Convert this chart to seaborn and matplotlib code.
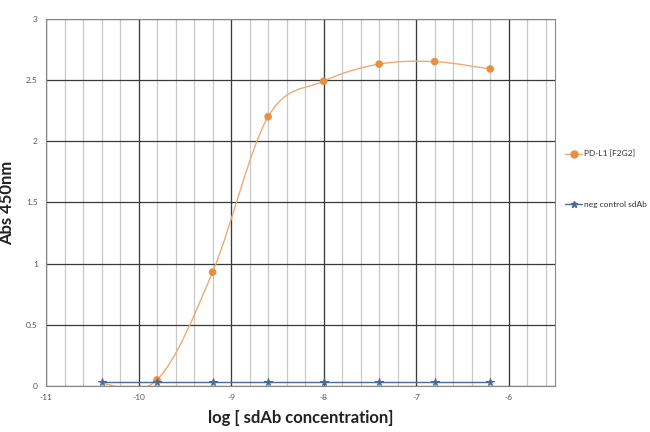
import numpy as np
import pandas as pd
import matplotlib
matplotlib.use("Agg")
import matplotlib.pyplot as plt
from matplotlib.path import Path
from matplotlib.patches import PathPatch
from matplotlib.lines import Line2D
import seaborn as sns

# data
log_conc = [-10.4, -9.8, -9.2, -8.6, -8.0, -7.4, -6.8, -6.2]
pdl1_abs = [0.02, 0.05, 0.93, 2.20, 2.49, 2.63, 2.65, 2.59]
neg_abs = [0.03, 0.03, 0.03, 0.03, 0.03, 0.03, 0.03, 0.03]
x_ticks = [-11, -10, -9, -8, -7, -6]
y_ticks = [0, 0.5, 1, 1.5, 2, 2.5, 3]
y_labels = ["0", "0.5", "1", "1.5", "2", "2.5", "3"]

orange = "#E8903F"
orange_line = "#EDAB72"
blue = "#4A6A9A"

sns.set_style("white")
plt.rcParams['font.family'] = ['Lato', 'DejaVu Sans']

df = pd.DataFrame({"x": log_conc, "pdl1": pdl1_abs, "neg": neg_abs})

fig = plt.figure(figsize=(6.5, 4.32), dpi=100)
ax = fig.add_axes([0.0708, 0.1065, 0.783, 0.850])

# grid: minor verticals light, majors dark
for v in np.arange(-11, -5.45, 0.2):
    ax.axvline(v, color="#c8c8c8", lw=0.9, zorder=0)
for v in x_ticks:
    ax.axvline(v, color="#3a3a3a", lw=0.9, zorder=0.5)
for h in y_ticks:
    ax.axhline(h, color="#3a3a3a", lw=0.9, zorder=0.5)

# smoothed line (excel-like bezier through points)
pts = np.column_stack([df["x"], df["pdl1"]])
ext = np.vstack([pts[0], pts, pts[-1]])
verts = [tuple(pts[0])]
codes = [Path.MOVETO]
for i in range(len(pts) - 1):
    p0, p1, p2, p3 = ext[i], ext[i + 1], ext[i + 2], ext[i + 3]
    c1 = p1 + (p2 - p0) / 6
    c2 = p2 - (p3 - p1) / 6
    verts += [tuple(c1), tuple(c2), tuple(p2)]
    codes += [Path.CURVE4] * 3
ax.add_patch(PathPatch(Path(verts, codes), facecolor="none", edgecolor=orange_line, lw=1.0, zorder=2))

sns.scatterplot(data=df.iloc[1:], x="x", y="pdl1", color=orange, s=30, edgecolor="none", zorder=3, ax=ax)
sns.lineplot(data=df, x="x", y="neg", color=blue, lw=1.0, marker="*", markersize=5.5,
             markeredgecolor=blue, zorder=4, ax=ax)

ax.set_xlim(-11, -5.5)
ax.set_ylim(0, 3)
ax.set_xticks(x_ticks)
ax.set_xticklabels([str(t) for t in x_ticks])
ax.set_yticks(y_ticks)
ax.set_yticklabels(y_labels)
ax.tick_params(axis="both", labelsize=6, colors="#555555", length=0, pad=6)
for s in ax.spines.values():
    s.set_color("#888888")
    s.set_linewidth(0.8)

ax.set_xlabel("log [ sdAb concentration]", fontsize=12, fontweight="bold", color="#222222", labelpad=6)
ax.set_ylabel("Abs 450nm", fontsize=12, fontweight="bold", color="#222222", labelpad=8)

handles = [
    Line2D([0], [0], color=orange_line, lw=1.0, marker="o", markersize=5,
           markerfacecolor=orange, markeredgecolor=orange),
    Line2D([0], [0], color=blue, lw=1.0, marker="*", markersize=5, markeredgecolor=blue),
]
fig.legend(handles, ["PD-L1 [F2G2]", "neg control sdAb"], loc="upper left",
           bbox_to_anchor=(0.858, 0.67), frameon=False, fontsize=6,
           labelspacing=5.2, handlelength=2.0, handletextpad=0.3, labelcolor="#333333")

fig.savefig("out.png", dpi=100)
